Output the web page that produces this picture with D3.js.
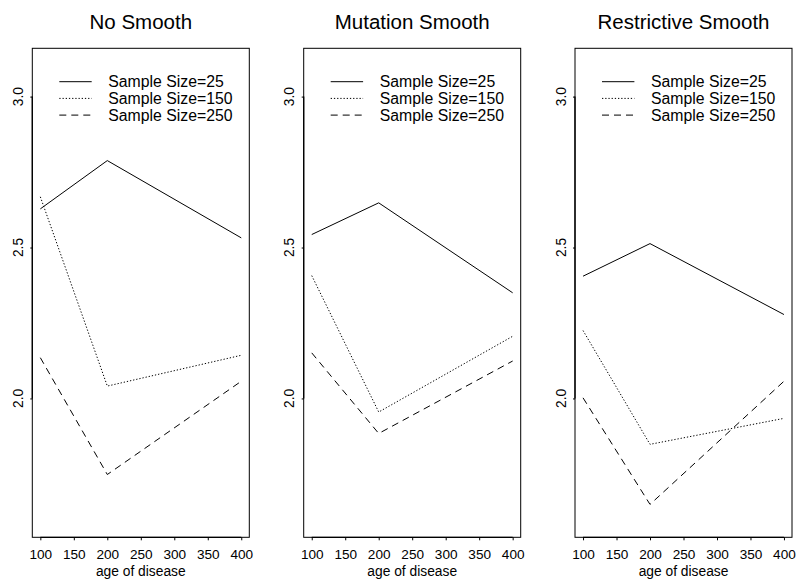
<!DOCTYPE html>
<html>
<head>
<meta charset="utf-8">
<script src="https://cdn.jsdelivr.net/npm/d3@7"></script>
<style>
  html, body { margin: 0; padding: 0; background: #fff; }
  svg { display: block; font-family: "Liberation Sans", Arial, sans-serif; }
</style>
</head>
<body>
<svg id="chart" width="796" height="580"></svg>
<script>
// ---- data ----
const panelTitles = ["No Smooth", "Mutation Smooth", "Restrictive Smooth"];
const ages = [100, 200, 400];
const seriesNames = ["Sample Size=25", "Sample Size=150", "Sample Size=250"];
// values per panel, per series (order: 25, 150, 250)
const noSmooth = [
  [2.628, 2.788, 2.532],
  [2.668, 2.041, 2.143],
  [2.135, 1.748, 2.057]
];
const mutationSmooth = [
  [2.543, 2.648, 2.350],
  [2.407, 1.955, 2.206],
  [2.151, 1.884, 2.124]
];
const restrictiveSmooth = [
  [2.405, 2.513, 2.278],
  [2.225, 1.848, 1.934],
  [2.002, 1.649, 2.057]
];
const xTicks = [100, 150, 200, 250, 300, 350, 400];
const yTicks = [2.0, 2.5, 3.0];
const xLimits = [100, 400];
const yLimits = [1.6, 3.1];
const xLabel = "age of disease";

const panelData = [noSmooth, mutationSmooth, restrictiveSmooth];
const dashes = [null, "1.3,1.9", "7,5"];

// ---- layout ----
const svg = d3.select("#chart");
const panelLefts = [32.3, 303.7, 575];
const panelW = 217;
const plotTop = 48.3, plotBottom = 537.3;

function expand(lim) {
  const d = (lim[1] - lim[0]) * 0.04;
  return [lim[0] - d, lim[1] + d];
}

panelData.forEach((data, pi) => {
  const left = panelLefts[pi];
  const x = d3.scaleLinear().domain(expand(xLimits)).range([left, left + panelW]);
  const y = d3.scaleLinear().domain(expand(yLimits)).range([plotBottom, plotTop]);
  const g = svg.append("g");

  // title
  g.append("text")
    .attr("x", left + panelW / 2).attr("y", 29)
    .attr("text-anchor", "middle")
    .attr("font-size", "20.5px")
    .attr("fill", "#000")
    .text(panelTitles[pi]);

  // lines
  const line = d3.line().x((d, i) => x(ages[i])).y(d => y(d));
  data.forEach((vals, si) => {
    g.append("path")
      .attr("d", line(vals))
      .attr("fill", "none")
      .attr("stroke", "#000")
      .attr("stroke-width", 1)
      .attr("stroke-dasharray", dashes[si]);
  });

  // legend
  const lgX = left + 27, lgLen = 32.4, txtX = left + 76;
  seriesNames.forEach((name, si) => {
    const cy = 81.7 + si * 16.7;
    g.append("line")
      .attr("x1", lgX).attr("x2", lgX + lgLen)
      .attr("y1", cy).attr("y2", cy)
      .attr("stroke", "#000").attr("stroke-width", 1)
      .attr("stroke-dasharray", dashes[si]);
    g.append("text")
      .attr("x", txtX).attr("y", cy + 5.6)
      .attr("font-size", "15.8px")
      .attr("fill", "#000")
      .text(name);
  });

  // box
  g.append("rect")
    .attr("x", left).attr("y", plotTop)
    .attr("width", panelW).attr("height", plotBottom - plotTop)
    .attr("fill", "none").attr("stroke", "#000").attr("stroke-width", 1);

  // x axis
  const xa = g.append("g").attr("transform", `translate(0,${plotBottom})`)
    .call(d3.axisBottom(x).tickValues(xTicks).tickSize(3).tickSizeOuter(0).tickPadding(9)
      .tickFormat(d3.format("d")));
  xa.select(".domain").attr("d", `M${x(xTicks[0])},0H${x(xTicks[xTicks.length - 1])}`).attr("stroke-width", 1.3);
  xa.selectAll("text").attr("font-size", "13.6px").attr("font-family", "Liberation Sans, Arial, sans-serif").attr("fill", "#000");

  g.append("text")
    .attr("x", left + panelW / 2).attr("y", 576)
    .attr("text-anchor", "middle")
    .attr("font-size", "13.8px")
    .attr("fill", "#000")
    .text(xLabel);

  // y axis
  const ya = g.append("g").attr("transform", `translate(${left},0)`)
    .call(d3.axisLeft(y).tickValues(yTicks).tickSize(2).tickSizeOuter(0).tickFormat(d3.format(".1f")));
  ya.select(".domain").attr("d", `M0,${y(yTicks[0])}V${y(yTicks[yTicks.length - 1])}`).attr("stroke-width", 1.3);
  ya.selectAll(".tick text").remove();
  yTicks.forEach(t => {
    g.append("text")
      .attr("transform", `translate(${left - 9.5},${y(t)}) rotate(-90)`)
      .attr("text-anchor", "middle")
      .attr("font-size", "13.8px")
      .attr("fill", "#000")
      .text(d3.format(".1f")(t));
  });
});
</script>
</body>
</html>
